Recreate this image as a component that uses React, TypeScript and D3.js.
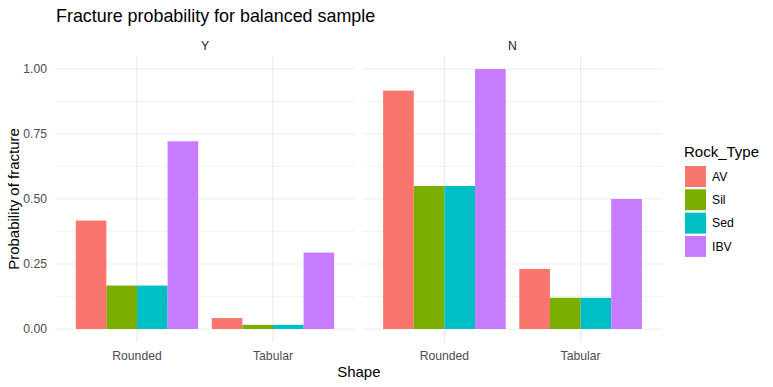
import * as d3 from "d3";

const facets = ["Y", "N"];
const shapes = ["Rounded", "Tabular"];
const rockTypes = ["AV", "Sil", "Sed", "IBV"];
const colors = ["#F8766D", "#7CAE00", "#00BFC4", "#C77CFF"];

// probability per facet -> shape -> rock type
const valuesY = [
  [0.417, 0.167, 0.167, 0.722],
  [0.042, 0.016, 0.016, 0.294],
];
const valuesN = [
  [0.917, 0.55, 0.55, 1.0],
  [0.231, 0.12, 0.12, 0.5],
];
const yTicks = [0, 0.25, 0.5, 0.75, 1.0];
const yMinor = [0.125, 0.375, 0.625, 0.875];

const W = 773;
const H = 387;
const PANELS = [
  { x0: 55.4, x1: 354.6 },
  { x0: 362.7, x1: 662.3 },
];
const TOP = 56;
const BOTTOM = 342;
const FONT = "Liberation Sans, Arial, sans-serif";
const GRID = "#ebebeb";
const SMALL = 12.2;
const BIG = 15;

export default function App() {
  const y = d3.scaleLinear().domain([-0.05, 1.05]).range([BOTTOM, TOP]);
  const allValues = [valuesY, valuesN];

  const panels = facets.map((f, fi) => {
    const { x0, x1 } = PANELS[fi];
    // ggplot discrete axis: 0.6 units of expansion either side
    const x = d3.scalePoint().domain(shapes).range([0, 1]);
    const unit = (x1 - x0) / 2.2;
    const center = (s: string) => x0 + (0.6 + (x(s) as number)) * unit;
    const inner = d3
      .scaleBand()
      .domain(rockTypes)
      .range([-0.45 * unit, 0.45 * unit]);
    return (
      <g key={f}>
        {yMinor.map((t) => (
          <line key={"m" + t} x1={x0} x2={x1} y1={y(t)} y2={y(t)} stroke={GRID} strokeWidth={0.6} />
        ))}
        {yTicks.map((t) => (
          <line key={"t" + t} x1={x0} x2={x1} y1={y(t)} y2={y(t)} stroke={GRID} strokeWidth={1.1} />
        ))}
        {shapes.map((s) => (
          <line key={s} x1={center(s)} x2={center(s)} y1={TOP} y2={BOTTOM} stroke={GRID} strokeWidth={1.1} />
        ))}
        {shapes.map((s, si) =>
          rockTypes.map((r, ri) => {
            const v = allValues[fi][si][ri];
            return (
              <rect
                key={s + r}
                x={center(s) + (inner(r) as number)}
                width={inner.bandwidth()}
                y={y(v)}
                height={y(0) - y(v)}
                fill={colors[ri]}
              />
            );
          })
        )}
        {shapes.map((s) => (
          <text key={"l" + s} x={center(s)} y={360} textAnchor="middle" fontSize={SMALL} fill="#4d4d4d">
            {s}
          </text>
        ))}
        <text x={(x0 + x1) / 2} y={50} textAnchor="middle" fontSize={SMALL} fill="#1a1a1a">
          {f}
        </text>
      </g>
    );
  });

  return (
    <svg width={W} height={H} style={{ position: "absolute", left: 0, top: 0 }} fontFamily={FONT}>
      <rect width={W} height={H} fill="#fff" />
      <text x={56} y={22} fontSize={17.9} fill="#000">
        Fracture probability for balanced sample
      </text>
      {yTicks.map((t) => (
        <text key={t} x={47} y={y(t)} dy="0.35em" textAnchor="end" fontSize={SMALL} fill="#4d4d4d">
          {t.toFixed(2)}
        </text>
      ))}
      <text
        transform={`translate(19,${(TOP + BOTTOM) / 2}) rotate(-90)`}
        textAnchor="middle"
        fontSize={BIG}
        fill="#000"
      >
        Probability of fracture
      </text>
      <text x={(PANELS[0].x0 + PANELS[1].x1) / 2} y={377} textAnchor="middle" fontSize={BIG} fill="#000">
        Shape
      </text>
      {panels}
      <g transform="translate(684,140)">
        <text x={0} y={17} fontSize={BIG} fill="#000">
          Rock_Type
        </text>
        {rockTypes.map((r, i) => (
          <g key={r} transform={`translate(0,${25 + i * 23.3})`}>
            <rect x={0.5} y={0.5} width={22} height={22} fill={colors[i]} stroke="#fff" strokeWidth={1} />
            <text x={28} y={11.5} dy="0.35em" fontSize={SMALL} fill="#000">
              {r}
            </text>
          </g>
        ))}
      </g>
    </svg>
  );
}
